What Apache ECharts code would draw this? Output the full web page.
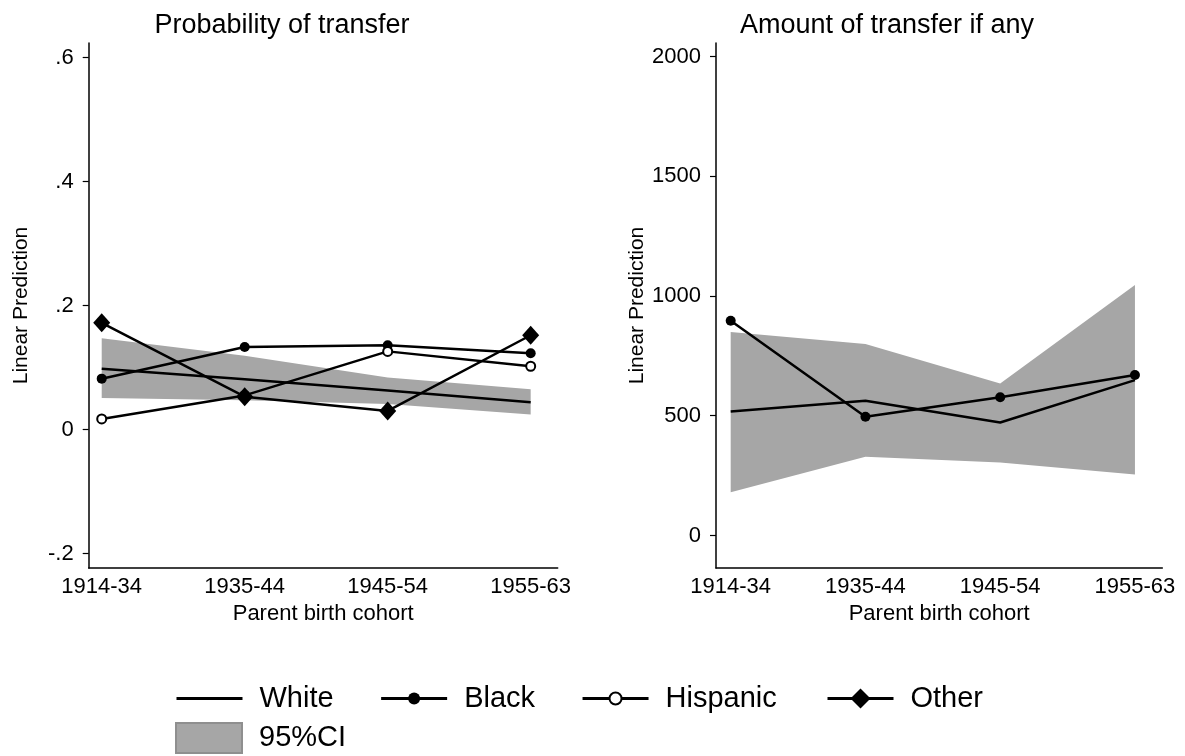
<!DOCTYPE html>
<html>
<head>
<meta charset="utf-8">
<script src="https://cdn.jsdelivr.net/npm/echarts@6/dist/echarts.min.js"></script>
<style>
html,body{margin:0;padding:0;background:#fff;}
#chart{width:1185px;height:756px;}
</style>
</head>
<body>
<div id="chart"></div>
<script>
const categories = ['1914-34', '1935-44', '1945-54', '1955-63'];

// Panel 1: Probability of transfer
const probWhite    = [0.098, 0.081, 0.063, 0.044];
const probBlack    = [0.082, 0.133, 0.136, 0.123];
const probHispanic = [0.017, 0.055, 0.126, 0.102];
const probOther    = [0.172, 0.053, 0.030, 0.152];
const probCiLow    = [0.051, 0.047, 0.041, 0.024];
const probCiHigh   = [0.147, 0.119, 0.084, 0.065];
const probTicks    = [-0.2, 0, 0.2, 0.4, 0.6];

// Panel 2: Amount of transfer if any
const amtWhite  = [518, 563, 472, 649];
const amtBlack  = [897, 496, 577, 670];
const amtCiLow  = [180, 329, 305, 255];
const amtCiHigh = [850, 800, 635, 1046];
const amtTicks  = [0, 500, 1000, 1500, 2000];

const FONT = "'Liberation Sans', Arial, sans-serif";
const pts = arr => arr.map((v, i) => [i, v]);

function xAxis(gi, min, max) {
  return {
    type: 'value', gridIndex: gi, min: min, max: max,
    name: 'Parent birth cohort', nameLocation: 'middle', nameGap: 31,
    nameTextStyle: {fontFamily: FONT, fontSize: 22, color: '#000'},
    axisLine: {show: true, onZero: false, lineStyle: {color: '#000', width: 1.5}},
    axisTick: {show: false},
    splitLine: {show: false},
    axisLabel: {
      customValues: [0, 1, 2, 3], margin: 8,
      fontFamily: FONT, fontSize: 22, color: '#000',
      formatter: v => categories[Math.round(v)]
    }
  };
}
function yAxis(gi, min, max, ticks, fmt, gap) {
  return {
    type: 'value', gridIndex: gi, min: min, max: max,
    name: 'Linear Prediction', nameLocation: 'middle', nameGap: gap,
    nameTextStyle: {fontFamily: FONT, fontSize: 21, color: '#000'},
    axisLine: {show: true, onZero: false, lineStyle: {color: '#000', width: 1.5}},
    axisTick: {show: true, inside: false, length: 6, customValues: ticks, lineStyle: {color: '#000', width: 1.2}},
    splitLine: {show: false},
    axisLabel: {customValues: ticks, margin: 15, fontFamily: FONT, fontSize: 22, color: '#000', formatter: fmt}
  };
}
const probFmt = v => {
  if (Math.abs(v) < 1e-9) return '0';
  return String(+v.toFixed(1)).replace('0.', '.');
};

function band(gi, lo, hi) {
  return {
    name: '95%CI', type: 'custom', xAxisIndex: gi, yAxisIndex: gi,
    data: lo.map((v, i) => [i, v, hi[i]]),
    encode: {x: 0, y: [1, 2]},
    itemStyle: {color: '#a6a6a6'},
    z: 1, silent: true,
    renderItem: function (params, api) {
      if (params.dataIndex !== 0) return null;
      const upper = hi.map((v, i) => api.coord([i, v]));
      const lower = lo.map((v, i) => api.coord([i, v])).reverse();
      return {
        type: 'polygon',
        shape: {points: upper.concat(lower)},
        style: {fill: '#a6a6a6', stroke: null}
      };
    }
  };
}
function line(gi, name, data, symbol, size, z) {
  return {
    name: name, type: 'line', xAxisIndex: gi, yAxisIndex: gi, data: pts(data),
    symbol: symbol, symbolSize: size, showSymbol: symbol !== 'none',
    lineStyle: {color: '#000', width: 2.5},
    itemStyle: {color: '#000', borderWidth: symbol === 'emptyCircle' ? 1.5 : 0},
    z: z, silent: true
  };
}

const legendText = {fontFamily: FONT, fontSize: 29, color: '#000', padding: [0, 0, 0, 12]};

const option = {
  animation: false,
  backgroundColor: '#fff',
  title: [
    {text: 'Probability of transfer', left: 277, top: 7, textAlign: 'center',
     textStyle: {fontFamily: FONT, fontSize: 27, fontWeight: 'normal', color: '#000'}},
    {text: 'Amount of transfer if any', left: 882, top: 7, textAlign: 'center',
     textStyle: {fontFamily: FONT, fontSize: 27, fontWeight: 'normal', color: '#000'}}
  ],
  grid: [
    {left: 88.7, right: 627.3, top: 43, bottom: 188, containLabel: false},
    {left: 716, right: 22.7, top: 43, bottom: 188, containLabel: false}
  ],
  xAxis: [xAxis(0, -0.091, 3.189), xAxis(1, -0.109, 3.203)],
  yAxis: [
    yAxis(0, -0.2234, 0.6234, probTicks, probFmt, 57),
    yAxis(1, -136, 2057, amtTicks, v => String(v), 65)
  ],
  legend: [
    {left: 175, top: 684, padding: 0, itemWidth: 66, itemHeight: 15, itemGap: 46,
     data: [
       {name: 'White', itemStyle: {opacity: 0}},
       {name: 'Black'},
       {name: 'Hispanic'}
     ],
     lineStyle: {width: 3, color: '#000'},
     textStyle: legendText,
     selectedMode: false},
    {left: 826, top: 684, padding: 0, itemWidth: 66, itemHeight: 25,
     data: [{name: 'Other'}],
     lineStyle: {width: 3, color: '#000'},
     textStyle: legendText,
     selectedMode: false},
    {left: 175, top: 722, padding: 0, itemWidth: 66, itemHeight: 30,
     data: [{name: '95%CI', icon: 'rect', itemStyle: {color: '#a6a6a6', borderColor: '#8f8f8f', borderWidth: 2}}],
     textStyle: legendText,
     selectedMode: false}
  ],
  series: [
    band(0, probCiLow, probCiHigh),
    line(0, 'White', probWhite, 'none', 0, 3),
    line(0, 'Black', probBlack, 'circle', 10, 4),
    line(0, 'Hispanic', probHispanic, 'emptyCircle', 9, 5),
    line(0, 'Other', probOther, 'diamond', [17, 19], 6),
    band(1, amtCiLow, amtCiHigh),
    line(1, 'White', amtWhite, 'none', 0, 3),
    line(1, 'Black', amtBlack, 'circle', 10, 4)
  ]
};

const chart = echarts.init(document.getElementById('chart'), null, {renderer: 'canvas'});
chart.setOption(option);
</script>
</body>
</html>
